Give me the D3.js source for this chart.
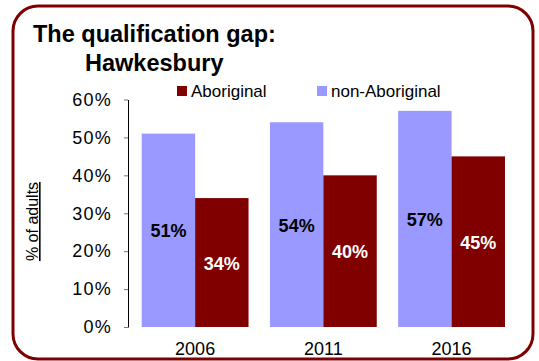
<!DOCTYPE html>
<html>
<head>
<meta charset="utf-8">
<script src="https://cdn.jsdelivr.net/npm/d3@7/dist/d3.min.js"></script>
<style>
  html, body { margin: 0; padding: 0; background: #fff; }
  svg { display: block; font-family: "Liberation Sans", Arial, Helvetica, sans-serif; }
</style>
</head>
<body>
<svg id="chart" width="539" height="361"></svg>
<script>
// Census years and share of adults with a qualification
const years = ["2006", "2011", "2016"];
const seriesNames = ["non-Aboriginal", "Aboriginal"];
const nonAboriginal = [51, 54, 57];
const aboriginal = [34, 40, 45];
const yTicks = [0, 10, 20, 30, 40, 50, 60];
const colors = { "non-Aboriginal": "#9999ff", "Aboriginal": "#800000" };

const svg = d3.select("#chart");

// Rounded frame
svg.append("rect")
  .attr("x", 13).attr("y", 6)
  .attr("width", 520).attr("height", 353)
  .attr("rx", 25).attr("ry", 25)
  .attr("fill", "#fff")
  .attr("stroke", "#7f0000")
  .attr("stroke-width", 3);

// Title
const title = svg.append("text")
  .attr("font-weight", "bold")
  .attr("font-size", 23.5)
  .attr("fill", "#000");
title.append("tspan").attr("x", 33).attr("y", 41.5).text("The qualification gap:");
title.append("tspan").attr("x", 85).attr("y", 70.5).text("Hawkesbury");

// Scales
const y = d3.scaleLinear().domain([0, 60]).range([327, 99.5]);
const x0 = d3.scaleBand().domain(years).range([128, 518.7])
  .paddingInner(0.167).paddingOuter(0.107);
const x1 = d3.scaleBand().domain(seriesNames).range([0, x0.bandwidth()]);

// Y axis
const yAxis = d3.axisLeft(y)
  .tickValues(yTicks)
  .tickFormat(d => d + "%")
  .tickSize(4)
  .tickSizeOuter(0)
  .tickPadding(12);
const gy = svg.append("g").attr("transform", "translate(128,0)").call(yAxis);
gy.select(".domain").attr("stroke", "#000").attr("stroke-width", 1);
gy.selectAll(".tick line").attr("stroke", "#777");
gy.selectAll(".tick text")
  .attr("font-size", 18)
  .attr("font-family", "'Liberation Sans', Arial, sans-serif")
  .attr("fill", "#000")
  .attr("letter-spacing", 1.2);

// Y axis title (underlined)
svg.append("text")
  .attr("transform", "translate(38,221.5) rotate(-90)")
  .attr("text-anchor", "middle")
  .attr("font-size", 16)
  .attr("fill", "#000")
  .attr("text-decoration", "underline")
  .text("% of adults");

// Bars
const rows = years.map((yr, i) => ({
  year: yr,
  values: [
    { key: "non-Aboriginal", value: nonAboriginal[i] },
    { key: "Aboriginal", value: aboriginal[i] }
  ]
}));

const groups = svg.append("g").selectAll("g")
  .data(rows).join("g")
  .attr("transform", d => `translate(${x0(d.year)},0)`);

groups.selectAll("rect")
  .data(d => d.values).join("rect")
  .attr("x", d => x1(d.key))
  .attr("y", d => y(d.value))
  .attr("width", x1.bandwidth())
  .attr("height", d => y(0) - y(d.value))
  .attr("fill", d => colors[d.key]);

// Value labels centred in each bar
groups.selectAll("text.val")
  .data(d => d.values).join("text")
  .attr("class", "val")
  .attr("x", d => x1(d.key) + x1.bandwidth() / 2)
  .attr("y", d => (y(d.value) + y(0)) / 2 + 7)
  .attr("text-anchor", "middle")
  .attr("font-weight", "bold")
  .attr("font-size", 18)
  .attr("fill", d => d.key === "Aboriginal" ? "#fff" : "#000")
  .text(d => d.value + "%");

// Category labels
svg.append("g").selectAll("text")
  .data(years).join("text")
  .attr("x", d => x0(d) + x0.bandwidth() / 2)
  .attr("y", 355)
  .attr("text-anchor", "middle")
  .attr("font-size", 18)
  .attr("fill", "#000")
  .text(d => d);

// Legend
const legendItems = [
  { key: "Aboriginal", x: 177 },
  { key: "non-Aboriginal", x: 317 }
];
const lg = svg.append("g").selectAll("g")
  .data(legendItems).join("g")
  .attr("transform", d => `translate(${d.x},86)`);
lg.append("rect")
  .attr("width", 10).attr("height", 10)
  .attr("fill", d => colors[d.key]);
lg.append("text")
  .attr("x", 14).attr("y", 10.5)
  .attr("font-size", 17)
  .attr("fill", "#000")
  .text(d => d.key);
</script>
</body>
</html>
